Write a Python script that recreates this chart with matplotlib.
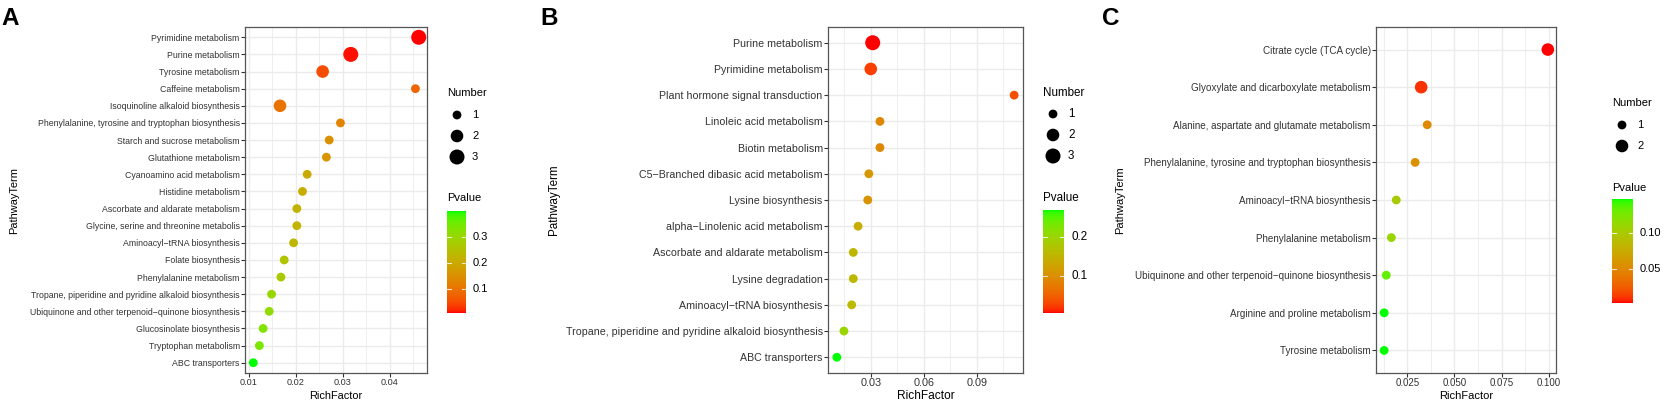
import numpy as np
import matplotlib
matplotlib.use("Agg")
import matplotlib.pyplot as plt
from matplotlib.colors import ListedColormap

plt.rcParams['font.family'] = ['Liberation Sans', 'DejaVu Sans']

# ---------------- data ----------------
a_terms = ["Pyrimidine metabolism", "Purine metabolism", "Tyrosine metabolism",
           "Caffeine metabolism", "Isoquinoline alkaloid biosynthesis",
           "Phenylalanine, tyrosine and tryptophan biosynthesis",
           "Starch and sucrose metabolism", "Glutathione metabolism",
           "Cyanoamino acid metabolism", "Histidine metabolism",
           "Ascorbate and aldarate metabolism", "Glycine, serine and threonine metabolis",
           "Aminoacyl\u2212tRNA biosynthesis", "Folate biosynthesis",
           "Phenylalanine metabolism",
           "Tropane, piperidine and pyridine alkaloid biosynthesis",
           "Ubiquinone and other terpenoid\u2212quinone biosynthesis",
           "Glucosinolate biosynthesis", "Tryptophan metabolism", "ABC transporters"]
a_rich = [0.0462, 0.0317, 0.0257, 0.0455, 0.0166, 0.0295, 0.0271, 0.0265, 0.0224,
          0.0214, 0.0202, 0.0202, 0.0195, 0.0175, 0.0168, 0.0148, 0.0143, 0.0130,
          0.0122, 0.0109]
a_number = [3, 3, 2, 1, 2, 1, 1, 1, 1, 1, 1, 1, 1, 1, 1, 1, 1, 1, 1, 1]
a_pvalue = [0.008, 0.012, 0.05, 0.08, 0.10, 0.13, 0.15, 0.16, 0.20, 0.21, 0.22,
            0.22, 0.23, 0.26, 0.27, 0.30, 0.31, 0.33, 0.34, 0.40]
a_xticks = [0.01, 0.02, 0.03, 0.04]
a_xticklabels = ["0.01", "0.02", "0.03", "0.04"]
a_cticks = [0.1, 0.2, 0.3]
a_cticklabels = ["0.1", "0.2", "0.3"]

b_terms = ["Purine metabolism", "Pyrimidine metabolism", "Plant hormone signal transduction",
           "Linoleic acid metabolism", "Biotin metabolism",
           "C5\u2212Branched dibasic acid metabolism", "Lysine biosynthesis",
           "alpha\u2212Linolenic acid metabolism", "Ascorbate and aldarate metabolism",
           "Lysine degradation", "Aminoacyl\u2212tRNA biosynthesis",
           "Tropane, piperidine and pyridine alkaloid biosynthesis", "ABC transporters"]
b_rich = [0.0311, 0.0300, 0.1112, 0.0352, 0.0352, 0.0289, 0.0283, 0.0228, 0.0201,
          0.0201, 0.0192, 0.0148, 0.0108]
b_number = [3, 2, 1, 1, 1, 1, 1, 1, 1, 1, 1, 1, 1]
b_pvalue = [0.005, 0.025, 0.035, 0.09, 0.09, 0.11, 0.105, 0.14, 0.155, 0.155, 0.16,
            0.20, 0.27]
b_xticks = [0.03, 0.06, 0.09]
b_xticklabels = ["0.03", "0.06", "0.09"]
b_cticks = [0.1, 0.2]
b_cticklabels = ["0.1", "0.2"]

c_terms = ["Citrate cycle (TCA cycle)", "Glyoxylate and dicarboxylate metabolism",
           "Alanine, aspartate and glutamate metabolism",
           "Phenylalanine, tyrosine and tryptophan biosynthesis",
           "Aminoacyl\u2212tRNA biosynthesis", "Phenylalanine metabolism",
           "Ubiquinone and other terpenoid\u2212quinone biosynthesis",
           "Arginine and proline metabolism", "Tyrosine metabolism"]
c_rich = [0.0995, 0.0324, 0.0356, 0.0292, 0.0192, 0.0166, 0.0139, 0.0128, 0.0128]
c_number = [2, 2, 1, 1, 1, 1, 1, 1, 1]
c_pvalue = [0.001, 0.008, 0.05, 0.055, 0.10, 0.11, 0.135, 0.149, 0.149]
c_xticks = [0.025, 0.050, 0.075, 0.100]
c_xticklabels = ["0.025", "0.050", "0.075", "0.100"]
c_cticks = [0.05, 0.10]
c_cticklabels = ["0.05", "0.10"]


# ---------------- Lab gradient red -> green (ggplot style) ----------------
M = np.array([[0.4124564, 0.3575761, 0.1804375],
              [0.2126729, 0.7151522, 0.0721750],
              [0.0193339, 0.1191920, 0.9503041]])
Minv = np.linalg.inv(M)
WHITE = np.array([0.95047, 1.0, 1.08883])
D = 6 / 29


def rgb2lab(rgb):
    c = np.asarray(rgb, float)
    lin = np.where(c <= 0.04045, c / 12.92, ((c + 0.055) / 1.055) ** 2.4)
    xyz = M @ lin / WHITE
    f = np.where(xyz > D ** 3, np.cbrt(xyz), xyz / (3 * D * D) + 4 / 29)
    return np.array([116 * f[1] - 16, 500 * (f[0] - f[1]), 200 * (f[1] - f[2])])


def lab2rgb(lab):
    L, a, b = lab
    fy = (L + 16) / 116
    fx = fy + a / 500
    fz = fy - b / 200
    f = np.array([fx, fy, fz])
    xyz = np.where(f > D, f ** 3, 3 * D * D * (f - 4 / 29)) * WHITE
    lin = np.clip(Minv @ xyz, 0, 1)
    c = np.where(lin <= 0.0031308, 12.92 * lin, 1.055 * lin ** (1 / 2.4) - 0.055)
    return np.clip(c, 0, 1)


lab_lo = rgb2lab([1, 0, 0])
lab_hi = rgb2lab([0, 1, 0])
cmap = ListedColormap([lab2rgb(lab_lo + (lab_hi - lab_lo) * t)
                       for t in np.linspace(0, 1, 256)])

W, H = 1663, 403
fig = plt.figure(figsize=(W / 100, H / 100), dpi=100)
overlay = fig.add_axes([0, 0, 1, 1], zorder=10)
overlay.set_xlim(0, W)
overlay.set_ylim(H, 0)
overlay.axis('off')

TXT = '#333333'
GRID = '#EBEBEB'


def px_rect(x0, y0, x1, y1):
    return [x0 / W, 1 - y1 / H, (x1 - x0) / W, (y1 - y0) / H]


def size_pts(n):
    d_px = {1: 8.8, 2: 12.6, 3: 15.0}
    return np.array([(d_px[v] * 0.72) ** 2 for v in n])


def panel(rect, terms, rich, number, pvalue, xticks, xticklabels, fs_y, fs_x):
    ax = fig.add_axes(px_rect(*rect))
    n = len(terms)
    ypos = np.arange(n)
    pmin, pmax = min(pvalue), max(pvalue)
    t = (np.array(pvalue) - pmin) / (pmax - pmin)
    ax.scatter(rich, ypos, s=size_pts(number), c=cmap(t), edgecolors='none',
               zorder=3)
    lo, hi = min(rich), max(rich)
    pad = 0.05 * (hi - lo)
    ax.set_xlim(lo - pad, hi + pad)
    ax.set_ylim(n - 1 + 0.6, -0.6)
    ax.set_yticks(ypos)
    ax.set_yticklabels(terms, fontsize=fs_y, color=TXT)
    ax.set_xticks(xticks)
    ax.set_xticklabels(xticklabels, fontsize=fs_x, color=TXT)
    step = xticks[1] - xticks[0]
    minors = np.arange(xticks[0] - step * 3.5, xticks[-1] + step * 3, step)
    ax.set_xticks(minors, minor=True)
    ax.set_xlim(lo - pad, hi + pad)
    ax.grid(which='major', axis='both', color=GRID, lw=1.0, zorder=0)
    ax.grid(which='minor', axis='x', color=GRID, lw=0.55, zorder=0)
    ax.set_axisbelow(True)
    ax.tick_params(which='major', length=2.6, width=0.8, color=TXT, pad=1.2)
    ax.tick_params(which='minor', length=0)
    for s in ax.spines.values():
        s.set_color('#555555')
        s.set_linewidth(0.9)
    return ax


def legend(x, y_num, sizes, y_dots, y_pv, cb_rect, pvalue, cticks, cticklabels, fs):
    overlay.text(x, y_num, "Number", fontsize=fs, color='black', ha='left', va='center')
    dots_x = x + 10
    overlay.scatter([dots_x] * len(sizes), y_dots, s=size_pts(sizes), c='black',
                    edgecolors='none')
    for s, yy in zip(sizes, y_dots):
        overlay.text(x + 25, yy, str(s), fontsize=fs, color='black', ha='left', va='center')
    overlay.text(x, y_pv, "Pvalue", fontsize=fs, color='black', ha='left', va='center')
    x0, y0, x1, y1 = cb_rect
    cax = fig.add_axes(px_rect(x0, y0, x1, y1), zorder=11)
    pmin, pmax = min(pvalue), max(pvalue)
    grad = np.linspace(pmin, pmax, 256).reshape(-1, 1)
    cax.imshow(grad, aspect='auto', cmap=cmap, origin='lower',
               extent=[0, 1, pmin, pmax], vmin=pmin, vmax=pmax)
    cax.set_xlim(0, 1)
    cax.set_ylim(pmin, pmax)
    for tv, tl in zip(cticks, cticklabels):
        cax.plot([0, 0.2], [tv, tv], color='white', lw=0.8, alpha=0.8)
        cax.plot([0.8, 1], [tv, tv], color='white', lw=0.8, alpha=0.8)
        ypx = y1 - (tv - pmin) / (pmax - pmin) * (y1 - y0)
        overlay.text(x1 + 7, ypx, tl, fontsize=fs, color='black', ha='left', va='center')
    cax.axis('off')


# Panel A
panel((245, 27, 427, 373), a_terms, a_rich, a_number, a_pvalue,
      a_xticks, a_xticklabels, 6.3, 6.6)
legend(447, 93, [1, 2, 3], [115, 136, 157], 198, (447, 211, 466, 313),
       a_pvalue, a_cticks, a_cticklabels, 8.0)
overlay.text(14, 200, "PathwayTerm", rotation=90, fontsize=7.9, color='black',
             ha='center', va='center')
overlay.text(336, 396, "RichFactor", fontsize=7.9, color='black', ha='center', va='center')
overlay.text(1, 25, "A", fontsize=17.5, fontweight='bold', ha='left', va='baseline')

# Panel B
panel((828, 27, 1023, 373), b_terms, b_rich, b_number, b_pvalue,
      b_xticks, b_xticklabels, 7.7, 7.8)
legend(1043, 93, [1, 2, 3], [114, 135, 156], 198, (1043, 210, 1064, 313),
       b_pvalue, b_cticks, b_cticklabels, 8.4)
overlay.text(554, 200, "PathwayTerm", rotation=90, fontsize=8.4, color='black',
             ha='center', va='center')
overlay.text(926, 396, "RichFactor", fontsize=8.6, color='black', ha='center', va='center')
overlay.text(540, 25, "B", fontsize=17.5, fontweight='bold', ha='left', va='baseline')

# Panel C
panel((1376, 27, 1556, 373), c_terms, c_rich, c_number, c_pvalue,
      c_xticks, c_xticklabels, 7.1, 7.0)
legend(1612, 103, [1, 2], [125, 146], 188, (1612, 199, 1633, 303),
       c_pvalue, c_cticks, c_cticklabels, 8.0)
overlay.text(1120, 200, "PathwayTerm", rotation=90, fontsize=8.0, color='black',
             ha='center', va='center')
overlay.text(1466, 396, "RichFactor", fontsize=8.0, color='black', ha='center', va='center')
overlay.text(1102, 25, "C", fontsize=17.5, fontweight='bold', ha='left', va='baseline')

fig.savefig("out.png", dpi=100)
